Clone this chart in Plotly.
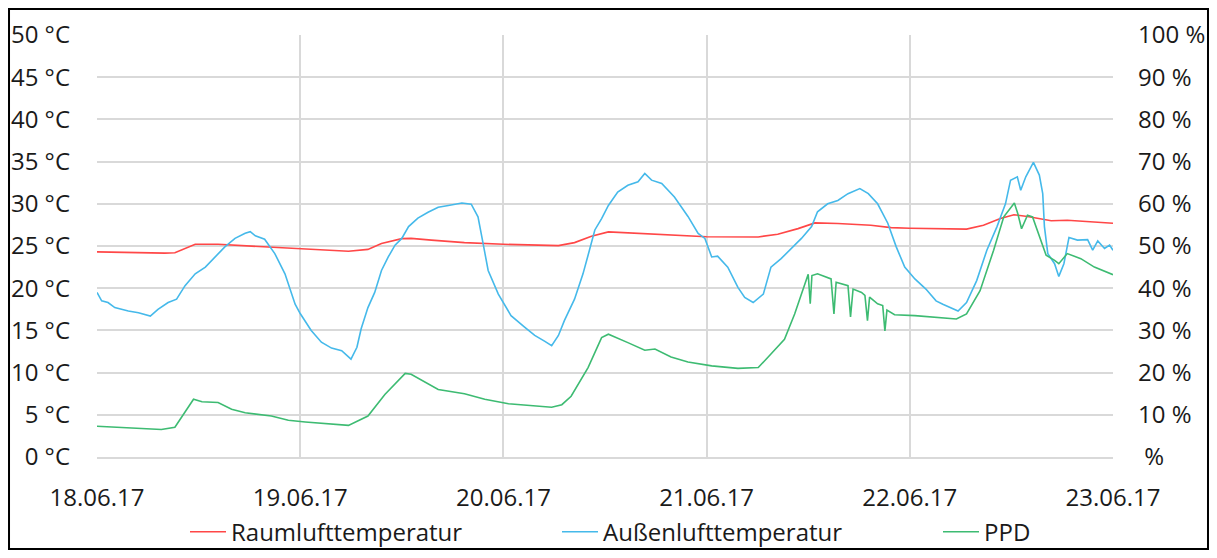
import pandas as pd
import plotly.graph_objects as go

# hours since 18.06.17 00:00 and values
raum_h = [0, 4, 8, 9.2, 11.6, 14.3, 18, 21, 24,
          29.7, 32.0, 33.6, 36.0, 37.1, 39.5, 43.4, 48,
          54.5, 56.4, 58.4, 60.4, 64.3, 67.4, 72,
          78.1, 80.4, 82.8, 84.8, 87.5, 91.4, 93.8, 96,
          102.7, 104.7, 106.7, 108.3, 109.9, 111.5, 112.7, 114.6, 117.0, 120]
raum_t = [24.3, 24.2, 24.15, 24.2, 25.2, 25.2, 25.0, 24.85, 24.6,
          24.37, 24.6, 25.3, 25.87, 25.9, 25.7, 25.4, 25.2,
          25.04, 25.4, 26.15, 26.67, 26.47, 26.35, 26.1,
          26.07, 26.4, 27.06, 27.74, 27.66, 27.46, 27.18, 27.1,
          27.0, 27.46, 28.25, 28.7, 28.5, 28.2, 28.0, 28.05, 27.9, 27.7]

aussen_h = [0, 0.55, 1.3, 2.1, 3.7, 4.9, 6.3, 7.2, 8.4, 9.4, 10.4, 11.6, 12.8, 13.9, 15.1, 16.3, 17.5, 18.1, 18.7,
            19.8, 21.0, 22.2, 23.4,
            24, 25.3, 26.5, 27.7, 28.9, 30.0, 30.7, 31.2, 32.0, 32.8, 33.6, 34.4, 35.2, 36.0, 36.8, 37.9, 39.1,
            40.3, 41.5, 43.1, 44.2, 45.0, 45.6, 46.2, 47.4, 48.4,
            48.9, 50.5, 51.7, 52.9, 53.7, 54.5, 55.2, 56.4, 57.4, 58.0, 58.8, 59.6, 60.4, 61.5, 62.7, 63.9, 64.7,
            65.5, 66.7, 68.2, 69.8, 71.0, 71.8, 72.6,
            73.3, 74.5, 75.7, 76.5, 77.5, 78.7, 79.6, 80.8, 82.0, 83.2, 84.4, 85.1, 86.3, 87.5, 88.7, 90.1, 91.1,
            92.2, 93.4, 94.4, 95.4, 96.6,
            97.9, 99.1, 99.9, 100.7, 101.7, 102.7, 103.9, 105.1, 106.3, 107.3, 107.9, 108.7, 109.1, 109.7, 110.6,
            111.3, 111.7, 111.9, 112.3, 113.1, 113.6, 114.2, 114.8, 115.8, 117.0, 117.6, 118.2, 119.0, 119.6, 120]
aussen_t = [19.5, 18.5, 18.3, 17.7, 17.3, 17.1, 16.7, 17.5, 18.3, 18.7, 20.3, 21.7, 22.5, 23.7, 24.9, 25.9, 26.5, 26.7, 26.2,
            25.8, 24.1, 21.7, 18.1,
            17.0, 15.0, 13.6, 12.9, 12.6, 11.6, 13.0, 15.2, 17.7, 19.5, 22.1, 23.7, 25.1, 25.9, 27.3, 28.3, 29.0,
            29.6, 29.8, 30.1, 29.96, 28.45, 25.3, 22.1, 19.3, 17.7,
            16.75, 15.4, 14.4, 13.7, 13.2, 14.4, 16.15, 18.7, 21.7, 23.9, 26.9, 28.25, 29.8, 31.4, 32.2, 32.6, 33.6,
            32.8, 32.4, 30.8, 28.5, 26.5, 25.9, 23.7,
            23.8, 22.5, 20.1, 18.9, 18.3, 19.3, 22.5, 23.5, 24.7, 25.9, 27.3, 29.05, 30.0, 30.4, 31.2, 31.8, 31.2,
            30.0, 27.7, 24.9, 22.5, 21.1,
            19.9, 18.5, 18.1, 17.7, 17.3, 18.3, 20.9, 24.5, 27.3, 30.0, 32.8, 33.2, 31.6, 33.2, 34.9,
            33.4, 31.2, 27.3, 24.1, 22.9, 21.4, 22.9, 26.0, 25.7, 25.75, 24.5, 25.6, 24.7, 25.1, 24.5]

ppd_h = [0, 4, 7.6, 9.2, 11.4, 12.4, 14.3, 15.9, 17.5, 20.6, 22.6, 24.6,
         29.7, 32.0, 34.0, 36.4, 37.1, 40.3, 43.4, 45.8, 48.6,
         53.7, 54.9, 56.0, 58.0, 59.6, 60.4, 62.7, 64.7, 65.9, 67.8, 69.8, 72.6,
         75.7, 78.1, 79.6, 81.2, 82.4, 83.6, 84.0, 84.24, 84.44, 85.1, 86.7, 87.04, 87.3, 88.7, 89.0, 89.3,
         90.3, 90.7, 91.0, 91.25, 92.2, 92.8, 93.06, 93.3, 94.2, 96.6,
         99.5, 101.5, 102.7, 104.3, 105.9, 107.1, 108.35, 108.75, 109.2, 109.9, 110.5, 111.3, 112.1, 113.1,
         113.6, 114.6, 116.2, 117.8, 120]
ppd_p = [7.3, 6.8, 6.5, 7.06, 13.7, 13.1, 12.9, 11.3, 10.5, 9.7, 8.7, 8.3,
         7.5, 9.7, 14.8, 19.8, 19.6, 16.0, 15.0, 13.7, 12.6,
         11.8, 12.4, 14.4, 21.2, 28.3, 29.1, 27.1, 25.3, 25.6, 23.7, 22.5, 21.6,
         21.0, 21.2, 24.4, 27.9, 33.9, 41.0, 43.3, 36.3, 43.0, 43.4, 42.2, 33.9, 41.4, 40.6, 33.2, 39.8,
         39.0, 38.3, 32.3, 37.9, 36.3, 35.9, 29.9, 34.8, 33.7, 33.5,
         33.1, 32.7, 33.9, 39.4, 49.0, 56.9, 60.2, 57.7, 54.1, 57.3, 56.9, 52.1, 47.8, 46.6,
         45.8, 48.2, 47.0, 45.0, 43.2]

pct_vals = [0, 10, 20, 30, 40, 50, 60, 70, 80, 90, 100]
pct_text = ["\u00a0%"] + [f"{v} %" for v in pct_vals[1:]]

start = pd.Timestamp("2017-06-18")


def to_time(hours):
    return start + pd.to_timedelta(hours, unit="h")


# page body adds an 8px margin, so the figure is 16px smaller than the window
W, H = 1201, 542
font = "'Open Sans', sans-serif"
grid = "#d9d9d9"

fig = go.Figure()
fig.add_trace(go.Scatter(x=to_time(raum_h), y=raum_t, name="Raumlufttemperatur", mode="lines",
                         line=dict(color="#ff4747", width=1.6), legend="legend"))
fig.add_trace(go.Scatter(x=to_time(aussen_h), y=aussen_t, name="Außenlufttemperatur", mode="lines",
                         line=dict(color="#45b9ea", width=1.6), legend="legend2"))
fig.add_trace(go.Scatter(x=to_time(ppd_h), y=ppd_p, name="PPD", mode="lines", yaxis="y2",
                         line=dict(color="#3dbb72", width=1.6), legend="legend3"))

leg = dict(orientation="h", xref="container", yref="container", xanchor="left", y=0.033,
           yanchor="middle", font=dict(size=24), itemwidth=36, bgcolor="rgba(0,0,0,0)")

fig.update_layout(
    width=W, height=H,
    margin=dict(l=89, r=96, t=27, b=93, autoexpand=False),
    paper_bgcolor="white", plot_bgcolor="white",
    font=dict(family=font, size=24, color="#1a1a1a"),
    showlegend=True,
    legend=dict(leg, x=177 / W),
    legend2=dict(leg, x=549 / W),
    legend3=dict(leg, x=930 / W),
    xaxis=dict(type="date", range=[start, start + pd.Timedelta(days=5)], dtick=86400000,
               tick0=start, tickformat="%d.%m.%y", showgrid=True, gridcolor=grid, gridwidth=1.5,
               showline=True, linecolor=grid, linewidth=1.5, ticks="", ticklabelstandoff=18,
               zeroline=False, automargin=False),
    yaxis=dict(range=[0, 50], dtick=5, ticksuffix=" °C", showgrid=True, gridcolor=grid,
               gridwidth=1.5, zeroline=False, ticks="", ticklabelstandoff=26, showline=False,
               automargin=False),
    yaxis2=dict(range=[0, 100], overlaying="y", side="right", tickvals=pct_vals, ticktext=pct_text,
                showgrid=False, zeroline=False, ticks="", ticklabelstandoff=24, automargin=False),
    shapes=[dict(type="rect", xref="paper", yref="paper", x0=-0.0866, x1=1.0935, y0=-0.218, y1=1.0616,
                 line=dict(color="black", width=2), fillcolor="rgba(0,0,0,0)", layer="below")],
)

fig.write_html("out.html")
